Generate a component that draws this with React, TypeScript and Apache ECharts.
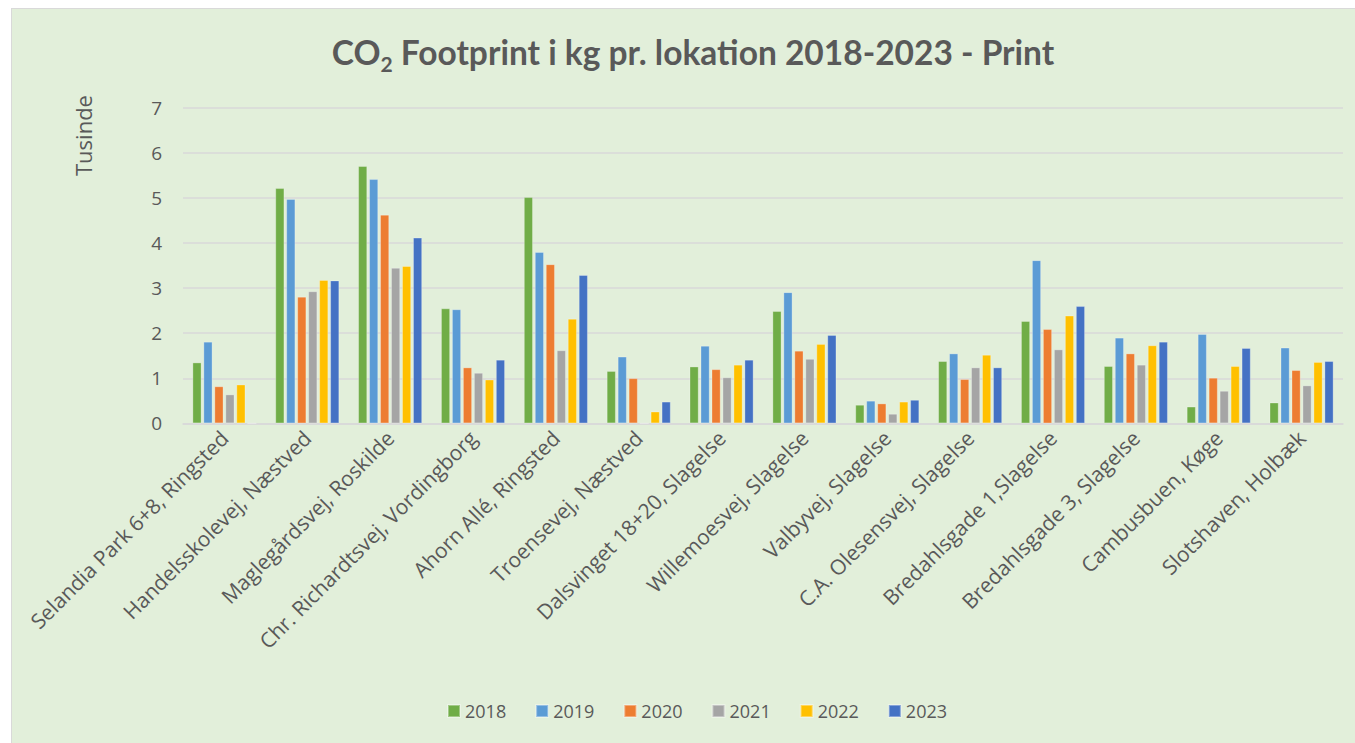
import React, { useEffect, useRef } from "react";
import * as echarts from "echarts";

const categories = [
  "Selandia Park 6+8, Ringsted",
  "Handelsskolevej, Næstved",
  "Maglegårdsvej, Roskilde",
  "Chr. Richardtsvej, Vordingborg",
  "Ahorn Allé, Ringsted",
  "Troensevej, Næstved",
  "Dalsvinget 18+20, Slagelse",
  "Willemoesvej, Slagelse",
  "Valbyvej, Slagelse",
  "C.A. Olesensvej, Slagelse",
  "Bredahlsgade 1,Slagelse",
  "Bredahlsgade 3, Slagelse",
  "Cambusbuen, Køge",
  "Slotshaven, Holbæk",
];

const years = ["2018", "2019", "2020", "2021", "2022", "2023"];

const v2018 = [1.35, 5.22, 5.71, 2.55, 5.02, 1.16, 1.26, 2.49, 0.41, 1.38, 2.27, 1.27, 0.37, 0.46];
const v2019 = [1.81, 4.98, 5.42, 2.53, 3.8, 1.48, 1.72, 2.91, 0.5, 1.55, 3.62, 1.9, 1.98, 1.68];
const v2020 = [0.82, 2.81, 4.63, 1.24, 3.53, 1.0, 1.2, 1.61, 0.44, 0.98, 2.09, 1.55, 1.01, 1.18];
const v2021 = [0.64, 2.93, 3.45, 1.12, 1.62, 0, 1.02, 1.43, 0.21, 1.24, 1.64, 1.3, 0.72, 0.84];
const v2022 = [0.86, 3.18, 3.49, 0.97, 2.32, 0.26, 1.3, 1.76, 0.48, 1.52, 2.39, 1.73, 1.27, 1.36];
const v2023 = [0, 3.17, 4.12, 1.41, 3.29, 0.48, 1.41, 1.96, 0.52, 1.24, 2.6, 1.81, 1.67, 1.38];

const seriesValues = [v2018, v2019, v2020, v2021, v2022, v2023];
const colors = ["#70AD47", "#5B9BD5", "#ED7D31", "#A5A5A5", "#FFC000", "#4472C4"];

const FONT = "'Open Sans', sans-serif";
const TITLE_FONT = "Lato, sans-serif";
const TXT = "#595959";

export default function App() {
  const ref = useRef<HTMLDivElement>(null);
  useEffect(() => {
    document.body.style.margin = "0";
    const chart = echarts.init(ref.current!, null, { renderer: "svg" });
    chart.setOption({
      animation: false,
      textStyle: { fontFamily: FONT },
      legend: {
        top: 688,
        left: 430,
        itemWidth: 12,
        itemHeight: 12,
        itemGap: 29,
        icon: "rect",
        textStyle: { fontSize: 18, color: TXT, fontFamily: FONT },
        data: years,
      },
      grid: { left: 171, right: 10, top: 99, bottom: 327.7 },
      xAxis: {
        type: "category",
        data: categories,
        axisTick: { show: false },
        axisLine: { lineStyle: { color: "#D9D9D9", width: 1.5 } },
        axisLabel: {
          rotate: 45,
          interval: 0,
          fontSize: 21,
          color: TXT,
          fontFamily: FONT,
          margin: 11,
        },
      },
      yAxis: {
        type: "value",
        min: 0,
        max: 7,
        interval: 1,
        axisLine: { show: false },
        axisTick: { show: false },
        splitLine: { lineStyle: { color: "#D9D9D9", width: 1.5 } },
        axisLabel: { fontSize: 19, color: TXT, fontFamily: FONT, margin: 21 },
      },
      graphic: [
        {
          type: "text",
          x: 681,
          y: 43,
          style: {
            text: "{a|CO}{s|2}{a| Footprint i kg pr. lokation 2018-2023 - Print}",
            align: "center",
            verticalAlign: "middle",
            rich: {
              a: { fontSize: 33.5, fontWeight: "bold", fill: TXT, fontFamily: TITLE_FONT },
              s: { fontSize: 21, fontWeight: "bold", fill: TXT, fontFamily: TITLE_FONT, padding: [22, 0, 0, 0] },
            },
          },
        },
        {
          type: "text",
          x: 60,
          y: 167,
          rotation: Math.PI / 2,
          style: { text: "Tusinde", fontSize: 22, fill: TXT, fontFamily: FONT },
        },
      ],
      series: years.map((y, i) => ({
        name: y,
        type: "bar",
        data: seriesValues[i],
        barWidth: 9,
        barGap: "22%",
        itemStyle: {
          color: colors[i],
          borderColor: "rgba(255,255,255,0.35)",
          borderWidth: 0.8,
        },
      })),
    });
    return () => chart.dispose();
  }, []);
  return (
    <div style={{ position: "relative", width: 1355, height: 743, overflow: "hidden", background: "#ffffff" }}>
      <div
        style={{
          position: "absolute",
          left: 11,
          top: 8,
          width: 1346,
          height: 746,
          border: "1.5px solid #D9D9D9",
          boxSizing: "border-box",
          background: "#E2EFDA",
        }}
      >
        <div ref={ref} style={{ width: 1341, height: 742 }} />
      </div>
    </div>
  );
}
